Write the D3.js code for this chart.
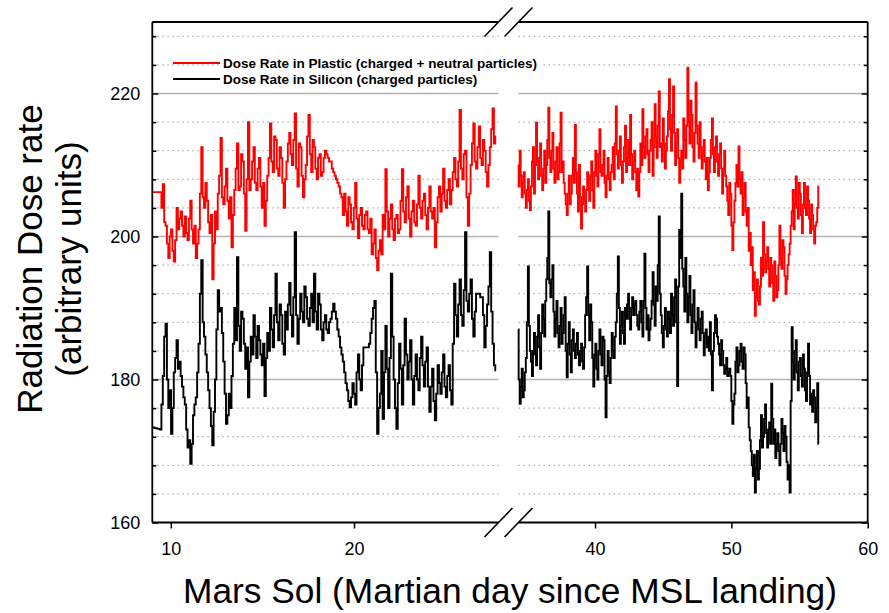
<!DOCTYPE html>
<html>
<head>
<meta charset="utf-8">
<script src="https://cdn.jsdelivr.net/npm/d3@7"></script>
<style>
  html, body { margin: 0; padding: 0; background: #fff; }
  svg { display: block; font-family: "Liberation Sans", Arial, Helvetica, sans-serif; }
</style>
</head>
<body>
<svg id="chart" width="889" height="613"></svg>
<script>
// ---- Data -------------------------------------------------------------
const yMajorTicks = [160, 180, 200, 220];
const yMinorTicks = [164, 168, 172, 176, 184, 188, 192, 196, 204, 208, 212, 216, 224, 228];
const xTicksEarly = [10, 20];
const xTicksLate = [40, 50, 60];

const seriesNames = [
  "Dose Rate in Plastic (charged + neutral particles)",
  "Dose Rate in Silicon (charged particles)"
];
const seriesColors = ["#ff0000", "#000000"];

// sampling cadence (sols) and the first sol of each observation window
const sampleStep = 0.075;
const earlyStartSol = 9.0;
const lateStartSol = 34.36;

const plasticEarly = [
  206.2,206.2,206.2,206.2,206.2,206.2,206.2,204.0,207.3,202.0,
  201.5,199.0,197.0,200.0,201.0,198.0,196.5,199.5,204.0,201.0,
  202.5,203.5,201.5,200.0,202.8,200.5,199.5,202.5,205.0,201.0,
  199.0,201.5,197.0,199.0,201.0,206.0,212.5,205.5,204.0,207.5,
  205.0,202.0,200.5,203.0,194.0,199.0,203.5,201.0,206.0,208.5,
  213.8,205.5,204.5,207.0,209.5,205.0,202.5,205.5,198.5,203.0,
  206.5,209.5,213.0,206.5,207.0,211.5,210.5,206.0,200.8,208.0,
  216.0,206.5,208.0,210.5,212.5,207.5,206.5,209.5,211.0,207.0,
  204.0,207.5,201.5,205.0,208.5,211.0,215.8,210.5,209.0,214.0,
  213.5,209.5,208.5,212.5,211.0,207.5,204.0,208.0,210.5,213.0,
  214.5,211.5,210.0,213.5,217.2,209.5,207.0,213.0,212.5,208.5,
  205.5,208.0,210.0,214.0,217.0,211.5,209.0,213.5,212.5,209.5,
  208.0,211.0,211.5,208.5,209.0,211.0,212.0,211.5,211.0,210.5,
  210.5,209.5,209.0,208.5,208.0,207.5,207.0,206.0,205.5,203.0,
  206.0,203.5,201.5,205.5,204.5,202.0,201.0,204.0,207.5,202.5,
  199.8,203.0,204.0,201.5,201.0,203.0,203.5,201.0,200.5,202.5,
  197.5,199.0,201.0,197.0,195.3,198.0,199.5,197.5,203.0,201.0,
  209.4,203.5,200.0,202.5,204.5,201.0,199.5,202.5,203.0,200.5,
  201.0,205.0,209.4,203.5,202.0,205.5,207.0,202.5,200.0,203.5,
  205.0,202.0,201.5,204.5,208.5,204.0,202.5,205.0,206.0,203.0,
  201.0,204.0,207.0,203.5,202.5,204.0,198.5,202.0,205.5,207.0,
  203.5,206.0,209.5,205.0,204.0,206.5,208.0,204.5,206.5,209.0,
  211.0,208.0,207.0,210.5,217.7,209.5,208.0,211.5,212.0,205.5,
  201.5,206.0,210.0,213.0,215.8,210.5,209.5,212.5,215.4,211.0,
  210.0,213.5,212.0,209.0,207.0,210.0,212.5,215.0,217.9,213.0,
  214.0
];

const siliconEarly = [
  173.3,173.3,173.2,173.2,173.1,173.1,173.0,176.5,180.5,186.0,
  187.8,180.0,176.0,178.5,172.4,176.0,181.0,183.0,185.5,181.5,
  182.5,180.5,179.0,177.5,176.5,173.0,170.5,171.5,168.2,171.0,
  175.0,176.5,177.5,181.0,185.0,192.0,196.7,188.0,186.0,183.5,
  181.0,178.5,176.0,173.5,170.8,175.5,180.0,187.0,192.5,189.5,
  190.0,186.5,182.5,178.0,173.8,175.0,178.0,176.0,180.5,185.0,
  190.0,185.5,197.1,187.5,184.0,189.5,188.5,185.0,181.5,184.5,
  177.5,182.5,186.0,183.5,189.0,186.0,183.0,187.5,185.5,183.5,
  182.0,185.0,177.7,183.0,186.5,184.0,190.0,187.0,184.5,189.0,
  194.8,188.0,185.5,190.5,189.0,185.0,183.5,189.5,187.0,190.5,
  193.5,189.0,186.0,191.5,200.6,189.0,185.0,188.5,192.0,189.5,
  188.0,193.0,191.5,188.5,187.5,190.0,192.0,188.0,194.8,189.5,
  187.0,192.0,190.5,187.0,185.5,188.0,189.0,187.0,186.5,188.0,
  188.5,189.5,190.6,189.5,188.5,187.0,186.0,184.5,183.5,182.5,
  181.0,179.5,178.5,177.0,176.1,177.5,179.5,178.0,176.5,181.0,
  183.5,180.0,178.5,182.0,184.5,184.5,184.5,184.5,185.0,186.5,
  188.5,190.0,191.0,181.0,172.4,176.0,178.0,184.0,174.5,181.0,
  187.5,181.5,176.0,183.0,194.8,186.0,180.0,176.0,173.1,179.5,
  185.0,181.5,176.5,182.0,188.5,183.5,180.0,182.5,185.5,180.0,
  176.5,180.5,183.5,180.0,178.5,183.0,186.0,182.0,179.0,182.5,
  184.5,179.0,175.5,179.0,181.5,177.0,174.3,178.0,182.0,179.5,
  178.0,181.0,183.5,179.0,177.5,180.5,182.0,178.5,176.5,185.0,
  193.4,189.0,186.0,190.5,194.0,189.0,187.5,192.5,200.6,191.0,
  189.5,192.0,194.0,188.5,186.0,189.5,192.0,192.0,192.0,191.5,
  191.5,189.0,184.5,187.5,190.5,193.0,197.8,189.5,185.0,182.0,
  181.3
];

const plasticLate = [
  210.0,207.0,212.0,208.5,205.5,207.5,209.0,206.0,204.0,206.5,
  208.0,205.0,203.7,207.0,210.5,212.5,206.0,210.0,215.9,210.5,
  208.0,211.0,213.0,208.5,206.5,209.5,212.0,207.5,210.0,213.5,
  218.0,211.0,209.0,212.0,214.5,209.5,207.5,210.5,212.5,208.0,
  209.0,213.0,217.3,209.0,210.5,207.5,206.0,204.5,203.0,206.0,
  208.5,204.5,206.0,208.5,211.0,207.5,215.6,209.0,206.0,203.5,
  210.0,205.5,201.1,204.5,207.0,205.0,203.5,206.5,209.0,206.5,
  205.0,208.5,210.5,206.5,204.0,209.0,212.0,208.5,207.0,211.5,
  215.0,209.0,208.5,210.0,212.0,207.5,205.5,208.5,211.0,208.0,
  206.5,209.0,210.0,212.5,208.0,213.0,218.2,211.5,209.5,212.0,
  214.0,210.0,207.5,210.5,212.5,215.5,209.0,211.0,213.5,210.0,
  217.0,211.5,208.0,210.5,212.0,209.0,206.5,209.5,205.6,209.0,
  213.0,210.0,217.8,212.5,211.0,214.0,215.0,211.5,209.0,212.0,
  213.5,216.0,208.5,212.5,218.5,214.0,211.0,215.5,220.3,212.5,
  213.0,210.5,216.5,213.0,209.5,212.0,214.0,217.5,222.0,215.0,
  212.0,217.0,221.0,214.5,210.0,213.0,215.0,211.0,207.5,210.5,
  212.0,209.5,216.5,213.5,211.0,215.5,223.6,216.0,213.0,219.0,
  217.0,212.5,210.5,214.5,221.5,215.5,213.0,211.0,216.0,212.5,
  209.5,211.5,213.5,210.5,208.0,211.0,206.5,209.0,211.0,213.5,
  216.5,211.5,209.0,212.5,214.0,210.5,208.5,211.5,213.0,209.5,
  206.0,209.5,212.0,208.5,207.0,205.0,203.0,207.5,206.0,201.5,
  198.1,202.0,205.0,207.5,210.0,207.0,212.6,208.0,206.0,209.0,
  203.0,205.5,207.5,203.5,201.5,204.0,198.0,200.5,196.0,198.5,
  192.5,195.0,188.9,191.5,194.0,191.0,190.5,193.0,197.0,194.5,
  202.0,197.5,195.0,196.5,198.5,195.5,193.0,197.0,196.0,193.5,
  191.0,196.5,194.5,191.5,192.5,196.0,201.5,197.0,195.5,199.5,
  198.5,194.5,192.0,194.0,196.0,197.5,199.0,201.5,203.5,206.5,
  201.0,204.5,208.4,204.0,202.5,207.5,206.0,203.0,200.5,204.5,
  207.5,204.0,203.0,207.0,205.0,202.5,200.5,204.5,203.0,201.0,
  199.0,201.5,202.0,204.0,207.0
];

const siliconLate = [
  187.0,180.0,176.6,179.0,181.5,177.5,178.5,181.0,183.0,188.0,
  195.8,187.5,184.0,182.5,180.5,184.0,186.5,183.5,182.0,186.0,
  189.0,184.5,181.5,186.5,190.5,188.5,186.0,191.0,194.0,197.0,
  203.5,193.5,191.5,194.0,196.0,189.5,186.0,188.5,191.0,186.5,
  184.5,187.5,190.0,185.0,186.5,189.0,191.5,184.0,180.3,185.0,
  188.0,183.5,181.0,185.5,187.0,184.0,183.0,185.0,186.5,183.5,
  182.0,184.0,185.0,182.5,181.5,184.5,189.0,191.5,195.8,189.0,
  185.5,190.5,188.0,183.0,179.0,183.5,185.0,181.5,180.0,184.0,
  187.0,183.5,182.0,186.0,185.5,180.0,174.7,180.5,184.0,181.0,
  179.5,183.0,186.5,184.0,183.0,186.0,188.0,192.0,197.2,190.0,
  185.0,187.5,189.5,186.5,185.0,190.0,188.5,190.5,192.0,188.5,
  187.0,190.0,191.5,189.0,190.5,191.0,189.0,187.5,187.0,189.5,
  191.0,188.0,186.0,191.0,197.6,190.0,187.0,189.0,185.5,187.0,
  188.5,191.0,195.0,190.5,187.5,193.0,191.0,196.0,202.8,192.0,
  189.0,186.5,184.5,187.5,190.0,187.0,186.0,189.5,188.5,186.5,
  192.0,189.0,187.5,191.5,194.0,188.0,179.1,193.0,200.9,197.0,
  206.0,195.5,193.0,189.5,197.0,192.0,188.0,191.5,194.5,189.0,
  186.5,190.5,192.5,188.0,184.5,187.5,190.0,187.0,185.5,188.5,
  189.5,186.5,183.4,186.0,187.0,184.5,186.0,184.0,188.0,183.5,
  178.5,184.0,186.5,189.0,188.5,186.0,185.0,183.5,182.0,185.5,
  184.0,182.0,180.8,181.5,183.0,180.5,181.0,181.5,180.5,177.0,
  173.8,176.5,178.0,182.5,184.5,181.0,182.0,184.0,185.0,182.5,
  181.5,184.5,183.5,179.5,176.0,177.5,173.3,171.5,170.0,168.0,
  166.5,169.5,164.2,167.5,170.0,166.0,167.5,171.5,175.0,170.5,
  172.0,174.5,176.5,172.5,170.5,173.0,174.0,171.0,179.4,174.5,
  171.0,173.0,169.0,171.0,172.5,170.0,168.0,171.0,174.5,172.5,
  170.0,173.5,172.0,168.5,166.0,168.0,164.2,177.0,187.3,182.5,
  180.0,184.0,185.5,181.0,178.5,182.5,183.0,180.5,179.0,183.5,
  181.5,178.5,177.0,181.0,185.0,180.5,176.5,178.0,175.5,178.5,
  177.5,174.0,176.0,179.5,171.0
];

// ---- Layout -----------------------------------------------------------
const svg = d3.select("#chart");
const plot = { left: 152.3, right: 867.7, top: 22, bottom: 522.5 };
const gap = { left: 498.5, right: 518.5 };   // broken-axis gap

const y = d3.scaleLinear().domain([160, 230]).range([plot.bottom, plot.top]);
const xEarly = d3.scaleLinear().domain([8.99, 27.86]).range([plot.left, 498]);
const xLate = d3.scaleLinear().domain([34.35, 60]).range([518, plot.right]);

const panels = [
  { x: xEarly, x0: plot.left, x1: gap.left, ticks: xTicksEarly,
    series: [ { values: plasticEarly, start: earlyStartSol, color: seriesColors[0] },
              { values: siliconEarly, start: earlyStartSol, color: seriesColors[1] } ] },
  { x: xLate, x0: gap.right, x1: plot.right, ticks: xTicksLate,
    series: [ { values: plasticLate, start: lateStartSol, color: seriesColors[0] },
              { values: siliconLate, start: lateStartSol, color: seriesColors[1] } ] }
];

// ---- Grid -------------------------------------------------------------
const grid = svg.append("g");
panels.forEach(p => {
  grid.selectAll(null).data(yMinorTicks).enter().append("line")
    .attr("x1", p.x0).attr("x2", p.x1)
    .attr("y1", d => y(d)).attr("y2", d => y(d))
    .attr("stroke", "#9a9a9a").attr("stroke-width", 1)
    .attr("stroke-dasharray", "1.5,3.5");
  grid.selectAll(null).data(yMajorTicks.filter(d => d > 160)).enter().append("line")
    .attr("x1", p.x0).attr("x2", p.x1)
    .attr("y1", d => y(d)).attr("y2", d => y(d))
    .attr("stroke", "#b3b3b3").attr("stroke-width", 1.4);
});

// ---- Series -----------------------------------------------------------
panels.forEach(p => {
  const line = d3.line()
    .x(d => p.x(d.sol))
    .y(d => y(d.v))
    .curve(d3.curveStep);
  p.series.forEach(s => {
    const pts = s.values.map((v, i) => ({ sol: s.start + i * sampleStep, v }));
    svg.append("path")
      .datum(pts)
      .attr("d", line)
      .attr("fill", "none")
      .attr("stroke", s.color)
      .attr("stroke-width", 1.9);
  });
});

// ---- Axes -------------------------------------------------------------
function styleAxis(g) {
  g.select(".domain").remove();
  g.selectAll(".tick line").attr("stroke", "#000").attr("stroke-width", 1.5);
  g.selectAll(".tick text")
    .attr("fill", "#000")
    .style("font-family", "'Liberation Sans', Arial, sans-serif")
    .style("font-size", "18px");
}

svg.append("g").attr("transform", `translate(${plot.left},0)`)
  .call(d3.axisLeft(y).tickValues(yMajorTicks).tickSize(-6).tickPadding(12).tickFormat(d3.format("d")))
  .call(styleAxis);
svg.append("g").attr("transform", `translate(${plot.left},0)`)
  .call(d3.axisLeft(y).tickValues(yMinorTicks).tickSize(-4).tickFormat(""))
  .call(styleAxis);
svg.append("g").attr("transform", `translate(${plot.right},0)`)
  .call(d3.axisRight(y).tickValues(yMajorTicks).tickSize(-6).tickFormat(""))
  .call(styleAxis);
svg.append("g").attr("transform", `translate(${plot.right},0)`)
  .call(d3.axisRight(y).tickValues(yMinorTicks).tickSize(-4).tickFormat(""))
  .call(styleAxis);

panels.forEach(p => {
  svg.append("g").attr("transform", `translate(0,${plot.bottom})`)
    .call(d3.axisBottom(p.x).tickValues(p.ticks).tickSize(6).tickPadding(14).tickFormat(d3.format("d")))
    .call(styleAxis);
});

// ---- Frame with broken top/bottom edges -------------------------------
const frame = svg.append("g").attr("stroke", "#000").attr("stroke-width", 1.8).attr("fill", "none");
frame.append("line").attr("x1", plot.left).attr("x2", plot.left).attr("y1", plot.top).attr("y2", plot.bottom);
frame.append("line").attr("x1", plot.right).attr("x2", plot.right).attr("y1", plot.top).attr("y2", plot.bottom);
[plot.top, plot.bottom].forEach(yy => {
  frame.append("line").attr("x1", plot.left).attr("x2", gap.left).attr("y1", yy).attr("y2", yy);
  frame.append("line").attr("x1", gap.right).attr("x2", plot.right).attr("y1", yy).attr("y2", yy);
  [gap.left, gap.right].forEach(cx => {
    frame.append("line")
      .attr("x1", cx - 14).attr("y1", yy + 14.5)
      .attr("x2", cx + 14).attr("y2", yy - 14.5)
      .attr("stroke-width", 1.6);
  });
});

// ---- Legend -----------------------------------------------------------
const legend = svg.append("g");
legend.append("rect").attr("x", 222).attr("y", 56).attr("width", 318).attr("height", 30).attr("fill", "#fff");
seriesNames.forEach((name, i) => {
  const ly = 63 + i * 16;
  legend.append("line")
    .attr("x1", 173).attr("x2", 220).attr("y1", ly).attr("y2", ly)
    .attr("stroke", seriesColors[i]).attr("stroke-width", 1.8);
  legend.append("text")
    .attr("x", 223).attr("y", ly + 5)
    .attr("font-size", 13.5).attr("font-weight", "bold").attr("fill", "#000")
    .text(name);
});

// ---- Axis titles ------------------------------------------------------
svg.append("text")
  .attr("x", 510).attr("y", 603)
  .attr("text-anchor", "middle")
  .attr("font-size", 35.3).attr("fill", "#000")
  .text("Mars Sol (Martian day since MSL landing)");

svg.append("text")
  .attr("transform", "translate(42,259) rotate(-90)")
  .attr("text-anchor", "middle")
  .attr("font-size", 35).attr("fill", "#000")
  .text("Radiation Dose rate");
svg.append("text")
  .attr("transform", "translate(81,259) rotate(-90)")
  .attr("text-anchor", "middle")
  .attr("font-size", 35).attr("fill", "#000")
  .text("(arbitrary units)");
</script>
</body>
</html>
